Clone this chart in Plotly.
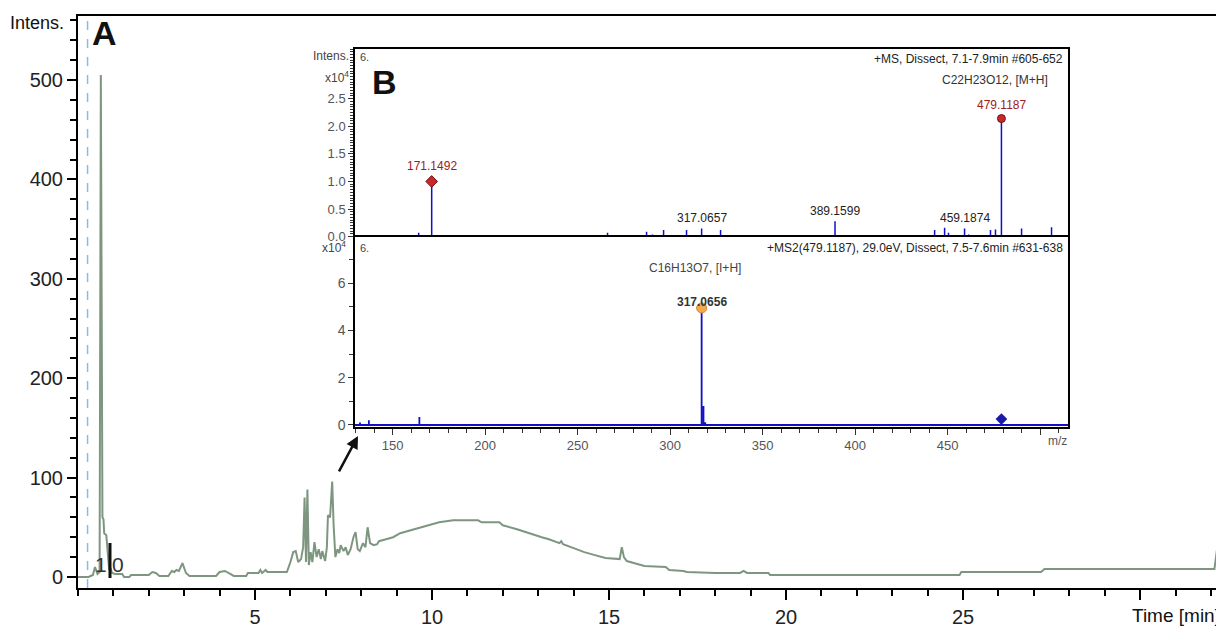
import plotly.graph_objects as go

# ---------------- data ----------------
# Base peak chromatogram (A)
time_min = [0.0, 0.30, 0.42, 0.48, 0.55, 0.61, 0.645, 0.69, 0.72, 0.74, 0.80, 0.84, 0.88, 0.92, 0.96,
            1.05, 1.25, 1.30, 1.45, 1.50, 2.00, 2.10, 2.20, 2.30, 2.55, 2.65, 2.72, 2.78, 2.85, 2.95,
            3.05, 3.15, 3.90, 4.00, 4.15, 4.30, 4.40, 4.75, 4.80, 5.10, 5.15, 5.20, 5.30, 5.35, 5.90,
            6.00, 6.08, 6.15, 6.22, 6.30, 6.36, 6.40, 6.44, 6.48, 6.52, 6.57, 6.62, 6.68, 6.74, 6.80,
            6.86, 6.90, 6.98, 7.03, 7.06, 7.12, 7.18, 7.22, 7.27, 7.33, 7.38, 7.42, 7.50, 7.56, 7.62,
            7.70, 7.78, 7.84, 7.90, 7.96, 8.05, 8.12, 8.18, 8.25, 8.35, 8.45, 8.50, 8.70, 8.90, 9.10,
            9.30, 9.50, 9.70, 10.0, 10.2, 10.4, 10.6, 11.3, 11.4, 11.9, 12.0, 12.4, 12.8, 13.1, 13.3,
            13.6, 13.65, 13.7, 14.0, 14.3, 14.6, 14.9, 15.3, 15.36, 15.42, 15.5, 15.9, 16.0, 16.6, 16.7,
            17.1, 17.2, 18.0, 18.7, 18.8, 18.9, 19.5, 19.55, 24.9, 24.95, 27.2, 27.3, 32.1, 32.2, 32.3,
            32.37]
intensity = [0, 0, 2, 10, 3, 5, 505, 60, 58, 44, 42, 20, 7, 9, 4,
             3, 3, 0, 0, 2, 2, 5, 4, 1, 1, 6, 5, 7, 6, 14,
             4, 1, 1, 5, 6, 3, 1, 1, 4, 4, 7, 4, 7, 5, 5,
             15, 25, 26, 15, 18, 30, 80, 15, 88, 12, 25, 15, 35, 20, 28,
             18, 26, 16, 30, 62, 60, 96, 52, 20, 28, 24, 32, 26, 30, 22,
             28, 40, 45, 28, 26, 34, 30, 50, 34, 32, 33, 36, 38, 40, 44,
             46, 48, 50, 53, 55, 56, 57, 57, 55, 55, 52, 48, 43, 40, 38,
             34, 36, 33, 29, 25, 22, 19, 18, 30, 20, 16, 12, 11, 10, 7,
             6, 5, 4, 4, 6, 4, 4, 2, 2, 5, 5, 8, 8, 35, 20,
             15]

# MS spectrum (B, upper)
ms1_mz = [159.7, 164.1, 171.1492, 186.8, 211.1, 231.1, 266.2, 287.3, 290.5, 292.2, 296.5, 308.9,
          317.0657, 324.6, 327.3, 370.5, 379.2, 389.1599, 414.9, 434.9, 443.0, 448.4, 450.5, 454.3,
          459.1874, 461.4, 473.2, 475.9, 479.1187, 490.0, 506.2]
ms1_int = [0.03, 0.07, 1.00, 0.03, 0.02, 0.03, 0.07, 0.09, 0.04, 0.02, 0.12, 0.12,
           0.15, 0.03, 0.12, 0.03, 0.03, 0.28, 0.02, 0.02, 0.12, 0.16, 0.07, 0.03,
           0.15, 0.04, 0.12, 0.13, 2.14, 0.15, 0.17]
ms1_labels = ["171.1492", "317.0657", "389.1599", "459.1874", "479.1187"]
ms1_label_mz = [171.1492, 317.0657, 389.1599, 459.1874, 479.1187]
ms1_label_int = [1.00, 0.15, 0.28, 0.15, 2.14]

# MS2 spectrum (B, lower)
ms2_mz = [132.4, 137.2, 164.5, 317.0656, 318.07, 319.0]
ms2_int = [0.11, 0.20, 0.34, 4.95, 0.80, 0.12]
precursor_mz = 479.1187
precursor_mark = 0.25

x_ticks_main = [5, 10, 15, 20, 25, 30]
x_ticktext_main = ["5", "10", "15", "20", "25", " "]
y_ticks_main = [0, 100, 200, 300, 400, 500]
mz_ticks = [150, 200, 250, 300, 350, 400, 450, 500]
mz_ticktext = ["150", "200", "250", "300", "350", "400", "450", " "]
ms1_yticks = [0, 0.5, 1.0, 1.5, 2.0, 2.5]
ms2_yticks = [0, 2, 4, 6]

# ---------------- helpers ----------------
# page body adds an 8px offset; lay the plot area at screen (78,16)-(1224,588)
OFF = 8
L, T, W, H = 78, 16, 1146, 572
FIG_W, FIG_H = 1224 - OFF, 628 - OFF

def px(x):
    return (x - L) / W
def py(y):
    return (T + H - y) / H

def sticks(mzs, ints, lo, hi):
    xs, ys = [lo], [0]
    for m, h in zip(mzs, ints):
        xs += [m, m, m]
        ys += [0, h, 0]
    xs.append(hi)
    ys.append(0)
    return xs, ys

FONT = "Liberation Sans, Arial, sans-serif"
NARROW = "Liberation Sans Narrow, Liberation Sans, Arial, sans-serif"
MZ_LO, MZ_HI = 129.7, 515.1

fig = go.Figure()
fig.add_trace(go.Scatter(x=time_min, y=intensity, mode="lines",
                         line=dict(color="#7e9680", width=2), xaxis="x", yaxis="y",
                         hoverinfo="skip"))

x1, y1 = sticks(ms1_mz, ms1_int, MZ_LO, MZ_HI)
fig.add_trace(go.Scatter(x=x1, y=y1, mode="lines", line=dict(color="#1010c8", width=1.5),
                         xaxis="x2", yaxis="y2"))
x2, y2 = sticks(ms2_mz, ms2_int, MZ_LO, MZ_HI)
fig.add_trace(go.Scatter(x=x2, y=y2, mode="lines", line=dict(color="#1010c8", width=1.8),
                         xaxis="x3", yaxis="y3"))

# markers
fig.add_trace(go.Scatter(x=[ms1_label_mz[0]], y=[ms1_label_int[0]], mode="markers",
                         marker=dict(symbol="diamond", size=9, color="#c42a2a",
                                     line=dict(color="#7a1010", width=1)),
                         xaxis="x2", yaxis="y2"))
fig.add_trace(go.Scatter(x=[ms1_label_mz[4]], y=[ms1_label_int[4]], mode="markers",
                         marker=dict(symbol="circle", size=8, color="#c42a2a",
                                     line=dict(color="#7a1010", width=1)),
                         xaxis="x2", yaxis="y2"))
fig.add_trace(go.Scatter(x=[ms2_mz[3]], y=[ms2_int[3]], mode="markers",
                         marker=dict(symbol="circle", size=10, color="#f2a950",
                                     line=dict(color="#d08830", width=1)),
                         xaxis="x3", yaxis="y3"))
fig.add_trace(go.Scatter(x=[precursor_mz], y=[precursor_mark], mode="markers",
                         marker=dict(symbol="diamond", size=9, color="#1a1aa8"),
                         xaxis="x3", yaxis="y3"))

ann = []
label_colors = ["#a02020", "#222222", "#222222", "#222222", "#a02020"]
label_shift = [15, 10, 10, 10, 14]
for t, m, h, c, s in zip(ms1_labels, ms1_label_mz, ms1_label_int, label_colors, label_shift):
    ann.append(dict(x=m, y=h, xref="x2", yref="y2", text=t, showarrow=False,
                    yshift=s, yanchor="middle",
                    font=dict(family=NARROW, size=12, color=c)))
ann.append(dict(x=ms2_mz[3], y=ms2_int[3], xref="x3", yref="y3", text="<b>317.0656</b>",
                showarrow=False, yshift=6, font=dict(family=NARROW, size=12, color="#333")))

def txt(x, y, text, size=12, color="#333", xanchor="center", family=NARROW, yanchor="middle"):
    ann.append(dict(x=px(x), y=py(y), xref="paper", yref="paper", text=text, showarrow=False,
                    xanchor=xanchor, yanchor=yanchor, font=dict(family=family, size=size, color=color)))

txt(1065, 59, "+MS, Dissect, 7.1-7.9min #605-652", 12, "#222", "right")
txt(1050, 80, "C22H23O12, [M+H]", 12, "#333", "right")
txt(1065, 248, "+MS2(479.1187), 29.0eV, Dissect, 7.5-7.6min #631-638", 12, "#222", "right")
txt(743, 268, "C16H13O7, [I+H]", 12, "#444", "right")
txt(351, 56, "Intens.", 12, "#444", "right")
txt(351, 77, "x10<sup>4</sup>", 12, "#444", "right")
txt(348, 247, "x10<sup>4</sup>", 12, "#444", "right")
txt(358, 57, "6.", 11, "#444", "left")
txt(358, 248, "6.", 11, "#444", "left")
txt(1057, 441, "m/z", 12, "#555", "center")
txt(37, 23, "Intens.", 18, "#111", "center", FONT)
txt(1222, 615, "Time [min]", 19, "#111", "right", FONT)
txt(104, 33, "<b>A</b>", 34, "#111", "center", FONT)
txt(384, 82, "<b>B</b>", 34, "#111", "center", FONT)
txt(101, 564, "1", 21, "#333", "center", FONT)
txt(118, 564, "0", 21, "#333", "center", FONT)

# arrow pointing to inset origin
ann.append(dict(x=px(358), y=py(436), xref="paper", yref="paper", ax=-22, ay=41,
                axref="pixel", ayref="pixel", showarrow=True, arrowhead=2, arrowsize=1,
                arrowwidth=2.5, arrowcolor="#111", text=" "))

shapes = [
    dict(type="line", xref="x", yref="paper", x0=0.27, x1=0.27, y0=0, y1=1,
         line=dict(color="#7fbfe8", width=1.5, dash="dash")),
    dict(type="line", xref="paper", yref="paper", x0=px(110), x1=px(110), y0=py(578), y1=py(543),
         line=dict(color="#111", width=3)),
]

axis_common = dict(showgrid=False, zeroline=False, showline=True, linecolor="black")

fig.update_layout(
    width=FIG_W, height=FIG_H,
    margin=dict(l=L - OFF, r=0, t=T - OFF, b=FIG_H - (T - OFF) - H, pad=0),
    paper_bgcolor="white", plot_bgcolor="white",
    showlegend=False,
    font=dict(family=FONT),
    xaxis=dict(domain=[0, 1], range=[0, 32.37], anchor="y", linewidth=2, mirror=True,
               ticks="outside", ticklen=10, tickwidth=2, tickcolor="black",
               tickvals=x_ticks_main, ticktext=x_ticktext_main,
               tickfont=dict(size=20, color="#222", family=FONT),
               minor=dict(tickmode="linear", tick0=0, dtick=1, ticks="outside", ticklen=6,
                          tickwidth=2, tickcolor="black"),
               automargin=False, **axis_common),
    yaxis=dict(domain=[0, 1], range=[-11.1, 564.4], anchor="x", linewidth=2,
               ticks="outside", ticklen=9, tickwidth=2, tickcolor="black",
               tickvals=y_ticks_main, tickfont=dict(size=20, color="#222", family=FONT),
               minor=dict(tickmode="linear", tick0=0, dtick=20, ticks="outside", ticklen=6,
                          tickwidth=2, tickcolor="black"),
               automargin=False, **axis_common),
    xaxis2=dict(domain=[px(355), px(1068)], range=[MZ_LO, MZ_HI], anchor="y2", linewidth=1.5,
                mirror=True, showticklabels=False, ticks="", **axis_common),
    yaxis2=dict(domain=[py(237), py(49)], range=[-0.006, 3.40], anchor="x2", linewidth=1.5,
                mirror=True, ticks="outside", ticklen=5, tickwidth=1, tickcolor="#333",
                tickvals=ms1_yticks, tickformat=".1f",
                tickfont=dict(size=13, color="#555", family=NARROW),
                minor=dict(tickmode="linear", tick0=0, dtick=0.05, ticks="outside", ticklen=3,
                           tickwidth=1, tickcolor="#333"),
                **axis_common),
    xaxis3=dict(domain=[px(355), px(1068)], range=[MZ_LO, MZ_HI], anchor="y3", linewidth=1.5,
                mirror=True, ticks="outside", ticklen=6, tickwidth=1, tickcolor="#333",
                tickvals=mz_ticks, ticktext=mz_ticktext,
                tickfont=dict(size=13, color="#555", family=NARROW),
                minor=dict(tickmode="linear", tick0=0, dtick=10, ticks="outside", ticklen=4,
                           tickwidth=1, tickcolor="#333"),
                **axis_common),
    yaxis3=dict(domain=[py(427), py(237)], range=[-0.085, 7.95], anchor="x3", linewidth=1.5,
                mirror=True, ticks="outside", ticklen=5, tickwidth=1, tickcolor="#333",
                tickvals=ms2_yticks, tickfont=dict(size=14, color="#555", family=NARROW),
                minor=dict(tickmode="linear", tick0=0, dtick=1, ticks="outside", ticklen=4,
                           tickwidth=1, tickcolor="#333"),
                **axis_common),
    annotations=ann,
    shapes=shapes,
)

fig.write_html("out.html")
